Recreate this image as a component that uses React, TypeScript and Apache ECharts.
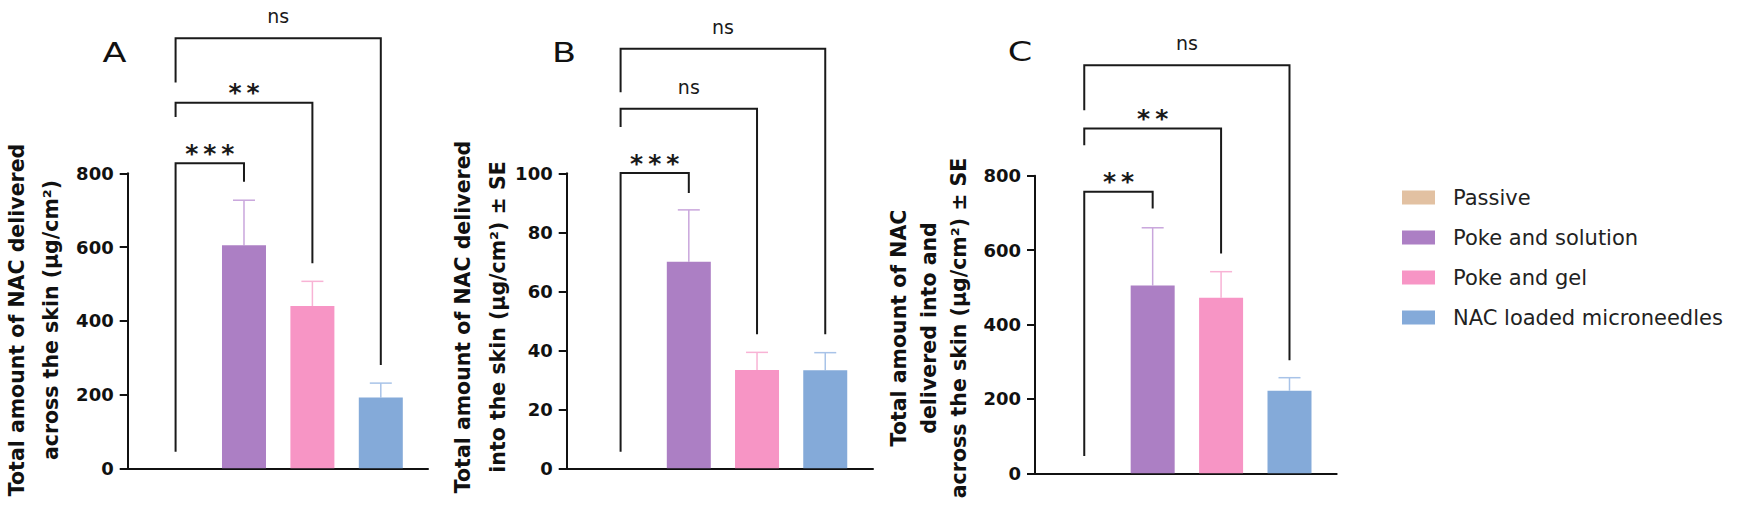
import React, { useEffect, useRef } from "react";
import * as echarts from "echarts";

// ---------- data ----------
const groups = ["Passive", "Poke and solution", "Poke and gel", "NAC loaded microneedles"];
const groupX = [0, 1, 2, 3];

// Panel A: delivered across the skin (µg/cm²)
const meanA = [0, 605, 440, 192];
const seA = [0, 122, 67, 39];
const yTicksA = [0, 200, 400, 600, 800];
// [from group, to group, bracket height, left leg end, right leg end]
const bracketsA = [
  [0, 1, 827, 45, 777],
  [0, 2, 991, 953, 556],
  [0, 3, 1166, 1046, 280],
];
const signifA = ["***", "**", "ns"];

// Panel B: delivered into the skin (µg/cm²)
const meanB = [0, 70, 33.3, 33.2];
const seB = [0, 17.6, 6, 6];
const yTicksB = [0, 20, 40, 60, 80, 100];
const bracketsB = [
  [0, 1, 100.1, 5.6, 93.3],
  [0, 2, 121.9, 115.7, 45.4],
  [0, 3, 142.2, 127.5, 45.4],
];
const signifB = ["***", "ns", "ns"];

// Panel C: delivered into and across the skin (µg/cm²)
const meanC = [0, 505, 472, 222];
const seC = [0, 155, 70, 35];
const yTicksC = [0, 200, 400, 600, 800];
const bracketsC = [
  [0, 1, 756.6, 46.5, 712],
  [0, 2, 927, 882, 591],
  [0, 3, 1097, 976, 304],
];
const signifC = ["**", "**", "ns"];

const titleA = "Total amount of NAC delivered\nacross the skin (µg/cm²)";
const titleB = "Total amount of NAC delivered\ninto the skin (µg/cm²) ± SE";
const titleC = "Total amount of NAC\ndelivered into and\nacross the skin (µg/cm²) ± SE";
const letters = ["A", "B", "C"];

// ---------- styles ----------
const colors = ["#e2c1a2", "#ac7fc4", "#f795c5", "#84aad9"];
const errColors = ["#e2c1a2", "#c9a6dc", "#f8b3d5", "#a8c3e8"];
const INK = "#111111";
const FONT = "DejaVu Sans";

const panels = [
  {
    mean: meanA, se: seA, ticks: yTicksA, br: bracketsA, sig: signifA, title: titleA,
    grid: { left: 127.7, top: 173.3, width: 300.3, height: 295 }, xMin: -0.7, xMax: 3.69,
    titleX: 34, titleY: 320, titleLH: 34, letterX: 114.5, letterY: 53,
  },
  {
    mean: meanB, se: seB, ticks: yTicksB, br: bracketsB, sig: signifB, title: titleB,
    grid: { left: 566.7, top: 173.3, width: 306.3, height: 295 }, xMin: -0.79, xMax: 3.7,
    titleX: 480, titleY: 317, titleLH: 35, letterX: 564, letterY: 52.5,
  },
  {
    mean: meanC, se: seC, ticks: yTicksC, br: bracketsC, sig: signifC, title: titleC,
    grid: { left: 1035, top: 175.7, width: 301.7, height: 297.6 }, xMin: -0.72, xMax: 3.69,
    titleX: 929, titleY: 328, titleLH: 30, letterX: 1020, letterY: 51.5,
  },
];

function buildOption() {
  const grid: any[] = [];
  const xAxis: any[] = [];
  const yAxis: any[] = [];
  const series: any[] = [];
  const graphic: any[] = [];

  panels.forEach((p, i) => {
    grid.push({ ...p.grid, containLabel: false });
    xAxis.push({
      type: "value",
      gridIndex: i,
      min: p.xMin,
      max: p.xMax,
      axisLine: { show: true, onZero: false, lineStyle: { color: INK, width: 2 } },
      axisTick: { show: false },
      axisLabel: { show: false },
      splitLine: { show: false },
    });
    const tks = p.ticks;
    yAxis.push({
      type: "value",
      gridIndex: i,
      min: tks[0],
      max: tks[tks.length - 1],
      interval: tks[1] - tks[0],
      axisLine: { show: true, onZero: false, lineStyle: { color: INK, width: 2 } },
      axisTick: { show: true, length: 8, lineStyle: { color: INK, width: 2 } },
      axisLabel: {
        margin: 14,
        color: INK,
        fontFamily: FONT,
        fontWeight: "bold",
        fontSize: 18,
      },
      splitLine: { show: false },
    });

    groups.forEach((g, k) => {
      series.push({
        type: "bar",
        name: g,
        xAxisIndex: i,
        yAxisIndex: i,
        data: [[groupX[k], p.mean[k]]],
        barWidth: 44,
        barGap: "-100%",
        itemStyle: { color: colors[k] },
        z: 3,
      });
    });

    // error bars (upper whisker, SE)
    series.push({
      type: "custom",
      xAxisIndex: i,
      yAxisIndex: i,
      clip: false,
      z: 2,
      data: groupX.map((k) => [k, p.mean[k], p.mean[k] + p.se[k]]),
      renderItem: (params: any, api: any) => {
        const x = api.value(0);
        const m = api.value(1);
        const t = api.value(2);
        if (t === m) return null;
        const a = api.coord([x, m]);
        const b = api.coord([x, t]);
        const c = errColors[x];
        return {
          type: "group",
          children: [
            { type: "line", shape: { x1: a[0], y1: a[1], x2: b[0], y2: b[1] }, style: { stroke: c, lineWidth: 1.5 } },
            { type: "line", shape: { x1: b[0] - 11, y1: b[1], x2: b[0] + 11, y2: b[1] }, style: { stroke: c, lineWidth: 1.5 } },
          ],
        };
      },
    });

    // significance brackets
    series.push({
      type: "custom",
      xAxisIndex: i,
      yAxisIndex: i,
      clip: false,
      z: 4,
      data: p.br,
      renderItem: (params: any, api: any) => {
        const x1 = api.value(0);
        const x2 = api.value(1);
        const yt = api.value(2);
        const yl = api.value(3);
        const yr = api.value(4);
        const pl = api.coord([x1, yt]);
        const pr = api.coord([x2, yt]);
        const plb = api.coord([x1, yl]);
        const prb = api.coord([x2, yr]);
        const lab = p.sig[params.dataIndex];
        const isStar = lab.indexOf("*") >= 0;
        return {
          type: "group",
          children: [
            {
              type: "polyline",
              shape: { points: [plb, pl, pr, prb] },
              style: { stroke: "#1a1a1a", lineWidth: 2, fill: null, lineJoin: "miter" },
            },
            {
              type: "text",
              x: (pl[0] + pr[0]) / 2,
              y: pl[1] - (isStar ? 10 : 22),
              style: {
                text: isStar ? lab.split("").join("\u2009") : lab,
                fontFamily: FONT,
                fontWeight: isStar ? "bold" : "normal",
                fontSize: isStar ? 25 : 19,
                fill: "#1a1a1a",
                align: "center",
                verticalAlign: "middle",
              },
            },
          ],
        };
      },
    });

    graphic.push({
      type: "text",
      x: p.titleX,
      y: p.titleY,
      rotation: Math.PI / 2,
      style: {
        text: p.title,
        fontFamily: FONT,
        fontWeight: "bold",
        fontSize: 20.5,
        lineHeight: p.titleLH,
        fill: INK,
        align: "center",
        verticalAlign: "middle",
      },
    });
    graphic.push({
      type: "text",
      x: p.letterX,
      y: p.letterY,
      scaleX: 1.3,
      style: {
        text: letters[i],
        fontFamily: FONT,
        fontSize: 27,
        fill: INK,
        align: "center",
        verticalAlign: "middle",
      },
    });
  });

  return {
    animation: false,
    backgroundColor: "#ffffff",
    grid,
    xAxis,
    yAxis,
    series,
    graphic,
    legend: {
      data: groups,
      orient: "vertical",
      left: 1402,
      top: 187,
      padding: 0,
      itemWidth: 33,
      itemHeight: 14,
      itemGap: 19,
      icon: "rect",
      selectedMode: false,
      textStyle: {
        fontFamily: FONT,
        fontSize: 21,
        color: "#222222",
        padding: [0, 0, 0, 13],
      },
    },
  };
}

export default function App() {
  const ref = useRef<HTMLDivElement>(null);
  useEffect(() => {
    if (!ref.current) return;
    const chart = echarts.init(ref.current, null, { renderer: "svg" });
    chart.setOption(buildOption() as any);
    return () => {
      chart.dispose();
    };
  }, []);
  return (
    <div
      ref={ref}
      style={{ position: "absolute", left: 0, top: 0, width: 1737, height: 515, background: "#fff" }}
    />
  );
}
